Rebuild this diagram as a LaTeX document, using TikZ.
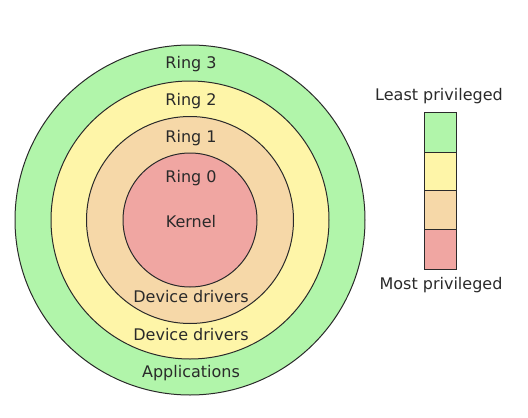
\documentclass[tikz,border=0pt]{standalone}
\usepackage{fontspec}
\setmainfont{DejaVu Sans}
\usepackage{tikz}

\definecolor{ringthree}{HTML}{B1F5AA}
\definecolor{ringtwo}{HTML}{FEF5A8}
\definecolor{ringone}{HTML}{F6D8A8}
\definecolor{ringzero}{HTML}{F0A6A2}
\definecolor{linegray}{HTML}{2A2A2A}

\tikzset{ring/.style={draw=linegray, line width=1pt},
  lbl/.style={text=linegray, font=\fontsize{16}{18}\selectfont, inner sep=0pt}}

\begin{document}
\begin{tikzpicture}[x=1pt,y=-1pt]
\useasboundingbox (0,0) rectangle (528,418);

\draw [ring, fill=ringthree] (190,220) circle (175pt);
\draw [ring, fill=ringtwo] (190,220) circle (139pt);
\draw [ring, fill=ringone] (190,220) circle (103.5pt);
\draw [ring, fill=ringzero] (190,220) circle (67pt);

\node [lbl] (r3) at (191,64) {Ring 3}; \node [lbl] (r2) at (191,101) {Ring 2};
\node [lbl] (r1) at (191,138) {Ring 1}; \node [lbl] (r0) at (191,178) {Ring 0};
\node [lbl] (kern) at (191,222) {Kernel};
\node [lbl] (dd1) at (191,297) {Device drivers}; \node [lbl] (dd2) at (191,335) {Device drivers};
\node [lbl] (apps) at (191,373) {Applications};

% legend
\draw [ring, fill=ringthree] (424,112) rectangle (456,152);
\draw [ring, fill=ringtwo] (424,152) rectangle (456,190);
\draw [ring, fill=ringone] (424,190) rectangle (456,229);
\draw [ring, fill=ringzero] (424,229) rectangle (456,269);
\node [lbl] (least) at (439,96) {Least privileged};
\node [lbl] (most) at (441,285) {Most privileged};
\end{tikzpicture}
\end{document}
